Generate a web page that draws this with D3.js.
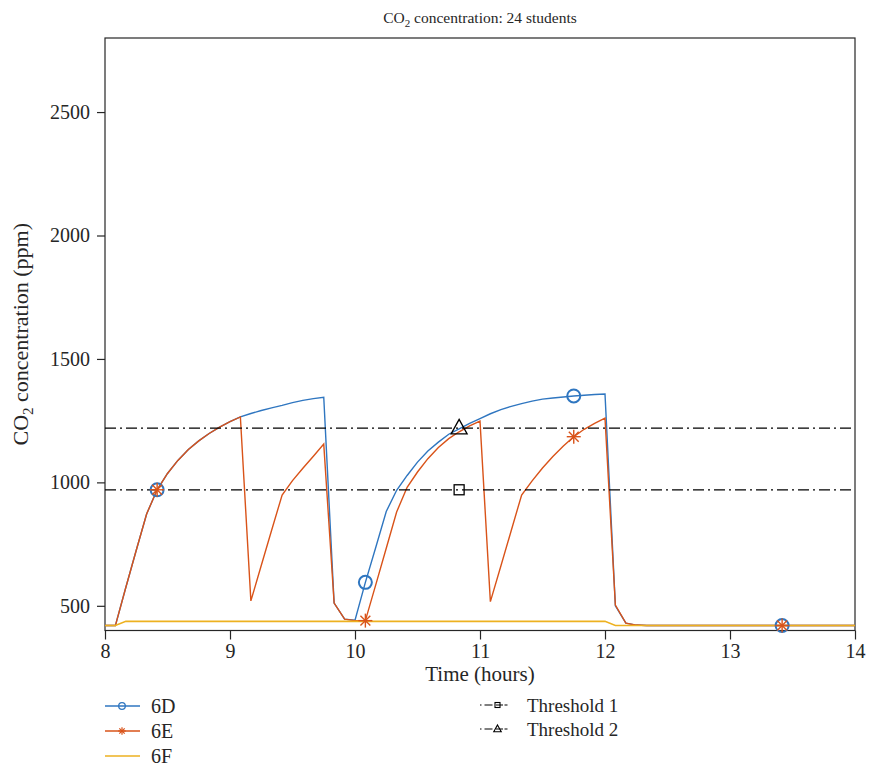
<!DOCTYPE html>
<html>
<head>
<meta charset="utf-8">
<script src="https://cdn.jsdelivr.net/npm/d3@7"></script>
<style>
  html, body { margin: 0; padding: 0; background: #fff; }
  svg { display: block; }
  text { font-family: "Liberation Serif", "Times New Roman", serif; fill: #262626; }
</style>
</head>
<body>
<svg id="chart" width="869" height="767"></svg>
<script>
// ---- data ----
const hours = [8.000, 8.083, 8.167, 8.250, 8.333, 8.417, 8.500, 8.583, 8.667, 8.750, 8.833, 8.917,
  9.000, 9.083, 9.167, 9.250, 9.333, 9.417, 9.500, 9.583, 9.667, 9.750, 9.833, 9.917,
  10.000, 10.083, 10.167, 10.250, 10.333, 10.417, 10.500, 10.583, 10.667, 10.750, 10.833, 10.917,
  11.000, 11.083, 11.167, 11.250, 11.333, 11.417, 11.500, 11.583, 11.667, 11.750, 11.833, 11.917,
  12.000, 12.083, 12.167, 12.250, 12.333, 12.417, 12.500, 12.583, 12.667, 12.750, 12.833, 12.917,
  13.000, 13.083, 13.167, 13.250, 13.333, 13.417, 13.500, 13.583, 13.667, 13.750, 13.833, 13.917,
  14.000];

const co2_6D = [420, 420, 575, 725, 872, 970, 1036, 1089, 1133, 1168, 1198, 1224,
  1246, 1265, 1279, 1291, 1302, 1312, 1323, 1332, 1339, 1345, 511, 446,
  442, 595, 738, 882, 968, 1028, 1082, 1127, 1163, 1195, 1217, 1239,
  1258, 1278, 1295, 1308, 1319, 1329, 1337, 1342, 1346, 1350, 1353, 1356,
  1358, 500, 430, 422, 420, 420, 420, 420, 420, 420, 420, 420,
  420, 420, 420, 420, 420, 420, 420, 420, 420, 420, 420, 420,
  420];

const co2_6E = [420, 420, 575, 725, 872, 970, 1036, 1089, 1133, 1168, 1198, 1224,
  1246, 1265, 520, 663, 806, 949, 1007, 1057, 1106, 1155, 511, 446,
  440, 440, 587, 733, 880, 980, 1042, 1096, 1141, 1177, 1205, 1229,
  1248, 517, 661, 805, 949, 1006, 1058, 1105, 1147, 1185, 1215, 1239,
  1260, 503, 430, 422, 420, 420, 420, 420, 420, 420, 420, 420,
  420, 420, 420, 420, 420, 420, 420, 420, 420, 420, 420, 420,
  420];

const co2_6F = [420, 420, 437, 437, 437, 437, 437, 437, 437, 437, 437, 437,
  437, 437, 437, 437, 437, 437, 437, 437, 437, 437, 437, 437,
  437, 437, 437, 437, 437, 437, 437, 437, 437, 437, 437, 437,
  437, 437, 437, 437, 437, 437, 437, 437, 437, 437, 437, 437,
  437, 420, 420, 420, 420, 420, 420, 420, 420, 420, 420, 420,
  420, 420, 420, 420, 420, 420, 420, 420, 420, 420, 420, 420,
  420];

const threshold1 = 970;
const threshold2 = 1220;
const seriesMarkerIdx = [5, 25, 45, 65];
const thresholdMarkerIdx = [34];

const xTicks = [8, 9, 10, 11, 12, 13, 14];
const yTicks = [500, 1000, 1500, 2000, 2500];
const xDomain = [8, 14];
const yDomain = [400, 2800];

// ---- layout ----
const svg = d3.select("#chart");
const M = { left: 105, right: 855, top: 38, bottom: 630.5 };
const x = d3.scaleLinear().domain(xDomain).range([M.left, M.right]);
const y = d3.scaleLinear().domain(yDomain).range([M.bottom, M.top]);

const C = { d: "#2f76c0", e: "#d95319", f: "#edb120", k: "#000000", axis: "#262626" };
const FONT = '"Liberation Serif", "Times New Roman", serif';

// frame
svg.append("rect")
  .attr("x", M.left).attr("y", M.top)
  .attr("width", M.right - M.left).attr("height", M.bottom - M.top)
  .attr("fill", "none").attr("stroke", C.axis).attr("stroke-width", 1.2);

// axes
const xAxis = d3.axisBottom(x).tickValues(xTicks).tickSize(9).tickPadding(4).tickFormat(d3.format("d"));
const yAxis = d3.axisLeft(y).tickValues(yTicks).tickSize(8).tickPadding(7).tickFormat(d3.format("d"));

const gx = svg.append("g").attr("transform", `translate(0,${M.bottom})`).call(xAxis);
const gy = svg.append("g").attr("transform", `translate(${M.left},0)`).call(yAxis);
[gx, gy].forEach(g => {
  g.attr("font-family", FONT);
  g.select(".domain").remove();
  g.selectAll(".tick line").attr("stroke", C.axis).attr("stroke-width", 1.2);
  g.selectAll(".tick text").attr("fill", C.axis)
    .style("font-family", FONT).style("font-size", "20px");
});

// clip
svg.append("clipPath").attr("id", "clip").append("rect")
  .attr("x", M.left).attr("y", M.top).attr("width", M.right - M.left).attr("height", M.bottom - M.top);
const plot = svg.append("g").attr("clip-path", "url(#clip)");

const line = d3.line().x((d) => x(d[0])).y((d) => y(d[1]));

function zipSeries(vals) { return hours.map((h, i) => [h, vals[i]]); }

// marker shapes
function circleMarker(g, cx, cy, r, color, sw) {
  g.append("circle").attr("cx", cx).attr("cy", cy).attr("r", r)
    .attr("fill", "none").attr("stroke", color).attr("stroke-width", sw);
}
function asteriskMarker(g, cx, cy, r, color, sw) {
  const a = r * Math.SQRT1_2;
  const segs = [[0, -r, 0, r], [-r, 0, r, 0], [-a, -a, a, a], [-a, a, a, -a]];
  segs.forEach(s => g.append("line")
    .attr("x1", cx + s[0]).attr("y1", cy + s[1]).attr("x2", cx + s[2]).attr("y2", cy + s[3])
    .attr("stroke", color).attr("stroke-width", sw));
}
function squareMarker(g, cx, cy, s, color, sw) {
  g.append("rect").attr("x", cx - s / 2).attr("y", cy - s / 2).attr("width", s).attr("height", s)
    .attr("fill", "none").attr("stroke", color).attr("stroke-width", sw);
}
function triangleMarker(g, cx, cy, s, color, sw) {
  const h = s * 0.9;
  g.append("path")
    .attr("d", `M${cx},${cy - h * 0.6}L${cx + s / 2},${cy + h * 0.4}L${cx - s / 2},${cy + h * 0.4}Z`)
    .attr("fill", "none").attr("stroke", color).attr("stroke-width", sw).attr("stroke-linejoin", "miter");
}

// series 6D
const d6D = zipSeries(co2_6D);
plot.append("path").datum(d6D).attr("d", line)
  .attr("fill", "none").attr("stroke", C.d).attr("stroke-width", 1.4);
const mD = svg.append("g");
seriesMarkerIdx.forEach(i => circleMarker(mD, x(d6D[i][0]), y(d6D[i][1]), 6.5, C.d, 2));

// series 6E
const d6E = zipSeries(co2_6E);
plot.append("path").datum(d6E).attr("d", line)
  .attr("fill", "none").attr("stroke", C.e).attr("stroke-width", 1.4);
const mE = svg.append("g");
seriesMarkerIdx.forEach(i => asteriskMarker(mE, x(d6E[i][0]), y(d6E[i][1]), 7, C.e, 1.4));

// series 6F
const d6F = zipSeries(co2_6F);
plot.append("path").datum(d6F).attr("d", line)
  .attr("fill", "none").attr("stroke", C.f).attr("stroke-width", 1.6);

// thresholds
const dash = "11,4,2,4";
const dT1 = hours.map(h => [h, threshold1]);
const dT2 = hours.map(h => [h, threshold2]);
plot.append("path").datum(dT1).attr("d", line)
  .attr("fill", "none").attr("stroke", C.k).attr("stroke-width", 1.3).attr("stroke-dasharray", dash);
plot.append("path").datum(dT2).attr("d", line)
  .attr("fill", "none").attr("stroke", C.k).attr("stroke-width", 1.3).attr("stroke-dasharray", dash);
const mT = svg.append("g");
thresholdMarkerIdx.forEach(i => {
  squareMarker(mT, x(dT1[i][0]), y(dT1[i][1]), 10, C.k, 1.3);
  triangleMarker(mT, x(dT2[i][0]), y(dT2[i][1]), 16, C.k, 1.3);
});

// title
const title = svg.append("text").attr("x", (M.left + M.right) / 2).attr("y", 23)
  .attr("text-anchor", "middle").style("font-size", "15.5px");
title.append("tspan").text("CO");
title.append("tspan").text("2").attr("font-size", "11px").attr("dy", 4);
title.append("tspan").text(" concentration: 24 students").attr("dy", -4);

// x label
svg.append("text").attr("x", (M.left + M.right) / 2).attr("y", 681)
  .attr("text-anchor", "middle").style("font-size", "21px").text("Time (hours)");

// y label
const yl = svg.append("text").attr("transform", `translate(28,${(M.top + M.bottom) / 2}) rotate(-90)`)
  .attr("text-anchor", "middle").style("font-size", "22px");
yl.append("tspan").text("CO");
yl.append("tspan").text("2").attr("font-size", "15px").attr("dy", 5);
yl.append("tspan").text(" concentration (ppm)").attr("dy", -5);

// legends
const leg = svg.append("g");
const legItems = [
  { name: "6D", color: C.d, y: 706, mk: "circle" },
  { name: "6E", color: C.e, y: 731, mk: "asterisk" },
  { name: "6F", color: C.f, y: 756, mk: null }
];
legItems.forEach(it => {
  leg.append("line").attr("x1", 105).attr("x2", 140).attr("y1", it.y).attr("y2", it.y)
    .attr("stroke", it.color).attr("stroke-width", 1.6);
  if (it.mk === "circle") circleMarker(leg, 122, it.y, 3.3, it.color, 1.3);
  if (it.mk === "asterisk") asteriskMarker(leg, 122, it.y, 3.8, it.color, 1.2);
  leg.append("text").attr("x", 151).attr("y", it.y + 7).style("font-size", "20px").text(it.name);
});
const legT = [
  { name: "Threshold 1", y: 705, mk: "square" },
  { name: "Threshold 2", y: 729, mk: "triangle" }
];
legT.forEach(it => {
  leg.append("line").attr("x1", 480).attr("x2", 515).attr("y1", it.y).attr("y2", it.y)
    .attr("stroke", C.k).attr("stroke-width", 1.2).attr("stroke-dasharray", "1.5,3,8,3.5,7");
  if (it.mk === "square") squareMarker(leg, 497.5, it.y, 5, C.k, 1.1);
  if (it.mk === "triangle") triangleMarker(leg, 497.5, it.y, 7.5, C.k, 1.1);
  leg.append("text").attr("x", 527).attr("y", it.y + 7).style("font-size", "19px").text(it.name);
});
</script>
</body>
</html>
